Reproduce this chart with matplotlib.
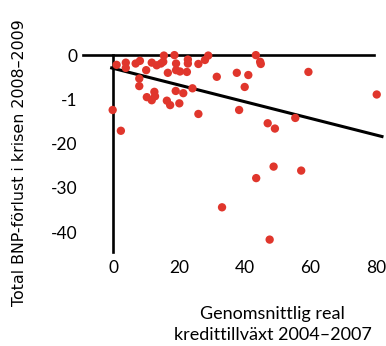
import matplotlib
matplotlib.use("Agg")
import matplotlib.pyplot as plt

# Real credit growth 2004-2007 (%) vs total GDP loss in the crisis 2008-2009 (%)
credit_growth = [
    1.0, 3.8, 3.8, 6.8, 8.1, 11.7, 13.2, 14.5, 15.4, 15.2,
    18.6, 19.1, 22.7, 22.7, 25.9, 27.9, 28.9, 10.0, 16.6, 19.1,
    20.3, 22.4, 7.9, 7.9, 31.5, 37.6, 41.1, 40.0, 24.1, 19.0,
    21.3, 12.5, 12.7, 10.2, 11.7, 16.3, 17.3, 20.1, 25.9, 38.3,
    -0.2, 2.3, 43.4, 44.7, 44.9, 59.4, 80.2, 47.0, 49.2, 55.4,
    48.8, 57.2, 43.5, 33.1, 47.6,
]
gdp_loss = [
    -2.2, -1.7, -2.9, -1.9, -1.3, -1.7, -2.3, -1.9, -0.1, -1.5,
    0.0, -1.9, -1.0, -1.9, -2.0, -1.1, -0.1, -3.4, -4.0, -3.4,
    -3.7, -3.8, -5.3, -7.0, -4.9, -4.0, -4.5, -7.2, -7.5, -8.1,
    -8.6, -8.3, -9.3, -9.5, -10.2, -10.3, -11.3, -10.9, -13.3, -12.4,
    -12.4, -17.1, 0.0, -1.5, -2.0, -3.8, -8.9, -15.4, -16.6, -14.2,
    -25.2, -26.1, -27.8, -34.4, -41.7,
]

# Trend line end points
fit_x = [-0.5, 81.8]
fit_y = [-2.9, -18.4]

x_ticks = [0, 20, 40, 60, 80]
y_ticks = [0, -10, -20, -30, -40]
y_ticklabels = ["0", "-1", "-20", "-30", "-40"]

red = "#e0362c"

fig = plt.figure(figsize=(3.86, 3.46), dpi=100)
ax = fig.add_axes([0.2153, 0.2717, 0.776, 0.569])
ax.set_xlim(-9.2, 82)
ax.set_ylim(-44.5, 0)

for s in ax.spines.values():
    s.set_visible(False)

# zero lines used as axes
ax.plot([-9.2, 79.5], [0, 0], color="black", lw=1.9, clip_on=False, zorder=2)
ax.plot([0, 0], [-44.5, 0], color="black", lw=1.9, clip_on=False, zorder=2)

ax.plot(fit_x, fit_y, color="black", lw=2.2, clip_on=False, zorder=3)
ax.scatter(credit_growth, gdp_loss, s=36, color=red, edgecolors="none",
           clip_on=False, zorder=4)

ax.set_xticks(x_ticks)
ax.set_xticklabels([str(v) for v in x_ticks])
ax.set_yticks(y_ticks)
ax.set_yticklabels(y_ticklabels)
ax.tick_params(length=0, labelsize=12.5)
ax.tick_params(axis="x", pad=6)
ax.tick_params(axis="y", pad=4)
for lab in ax.get_xticklabels() + ax.get_yticklabels():
    lab.set_family("Lato")

fig.text(0.707, 0.062, "Genomsnittlig real\nkredittillväxt 2004–2007",
         ha="center", va="center", fontsize=13, family="Lato",
         linespacing=1.33)
fig.text(0.05, 0.53, "Total BNP-förlust i krisen 2008–2009",
         rotation=90, ha="center", va="center", fontsize=11.4,
         family="DejaVu Sans")

fig.savefig("out.png", dpi=100)
